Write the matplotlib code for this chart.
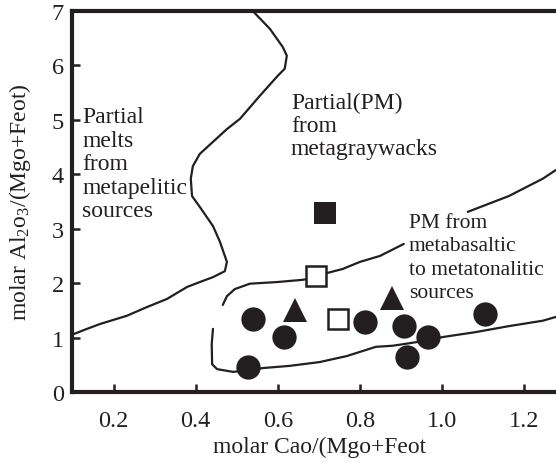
import numpy as np
import matplotlib
matplotlib.use("Agg")
import matplotlib.pyplot as plt

plt.rcParams["font.family"] = ["Liberation Serif", "DejaVu Serif"]
plt.rcParams["mathtext.fontset"] = "custom"
plt.rcParams["mathtext.rm"] = "Liberation Serif"
plt.rcParams["mathtext.it"] = "Liberation Serif"
plt.rcParams["mathtext.default"] = "rm"

INK = "#231f20"

# ---- sample data: molar CaO/(MgO+FeOt) vs molar Al2O3/(MgO+FeOt) ----
circle_x = [0.539, 0.616, 0.528, 0.812, 0.907, 0.916, 0.966, 1.104]
circle_y = [1.35, 1.01, 0.46, 1.29, 1.22, 0.64, 1.01, 1.43]

triangle_x = [0.642, 0.879]
triangle_y = [1.50, 1.73]

open_square_x = [0.693, 0.746]
open_square_y = [2.14, 1.34]

filled_square_x = [0.714]
filled_square_y = [3.28]

# ---- field boundaries ----
# metapelitic / metagraywacke boundary
pelite_x = [0.539, 0.581, 0.612, 0.622, 0.617, 0.600, 0.556, 0.508, 0.476,
            0.410, 0.393, 0.388, 0.391, 0.410, 0.442, 0.459, 0.476, 0.471,
            0.442, 0.410, 0.379, 0.330, 0.281, 0.232, 0.167, 0.135, 0.098]
pelite_y = [7.00, 6.67, 6.34, 6.18, 5.94, 5.81, 5.44, 5.02, 4.83,
            4.375, 4.15, 3.92, 3.60, 3.40, 3.05, 2.76, 2.39, 2.22,
            2.11, 2.02, 1.93, 1.71, 1.56, 1.40, 1.25, 1.16, 1.05]

# upper limit of the metabasaltic field (broken where the label sits)
basalt_top_x = [0.466, 0.476, 0.495, 0.532, 0.598, 0.659, 0.693, 0.722, 0.758,
                0.800, 0.849, 0.907, np.nan, 1.063, 1.163, 1.246, 1.278]
basalt_top_y = [1.60, 1.76, 1.89, 1.99, 2.02, 2.06, 2.10, 2.19, 2.26,
                2.39, 2.50, 2.72, np.nan, 3.31, 3.60, 3.92, 4.08]

# lower limit of the metabasaltic field
basalt_low_x = [0.442, 0.439, 0.440, 0.452, 0.491, 0.528, 0.564, 0.629, 0.702,
                0.768, 0.839, 0.880, 0.907, 0.966, 1.002, 1.082, 1.163, 1.246, 1.278]
basalt_low_y = [1.16, 0.88, 0.51, 0.42, 0.37, 0.40, 0.44, 0.48, 0.55,
                0.66, 0.83, 0.85, 0.88, 0.95, 1.01, 1.10, 1.21, 1.31, 1.38]

x_ticks = [0.2, 0.4, 0.6, 0.8, 1.0, 1.2]
x_tick_labels = ["0.2", "0.4", "0.6", "0.8", "1.0", "1.2"]
y_ticks = [0, 1, 2, 3, 4, 5, 6, 7]
y_tick_labels = ["0", "1", "2", "3", "4", "5", "6", "7"]

fig = plt.figure(figsize=(5.56, 4.64), dpi=100)
ax = fig.add_axes([72 / 556, 1 - 393 / 464, 1 - 72 / 556, (393 - 12) / 464])

for bx, by in [(pelite_x, pelite_y), (basalt_top_x, basalt_top_y),
               (basalt_low_x, basalt_low_y)]:
    ax.plot(bx, by, color=INK, lw=1.6, solid_capstyle="round",
            solid_joinstyle="round", zorder=2)

ax.plot(circle_x, circle_y, "o", ms=17.5, mfc=INK, mec=INK, mew=0, zorder=3)
ax.plot(triangle_x, triangle_y, "^", ms=17.5, mfc=INK, mec=INK, mew=0, zorder=3)
ax.plot(open_square_x, open_square_y, "s", ms=14, mfc="white", mec=INK,
        mew=1.8, zorder=3)
ax.plot(filled_square_x, filled_square_y, "s", ms=16.5, mfc=INK, mec=INK,
        mew=0, zorder=3)

txt = dict(fontsize=17, color=INK, ha="left", va="top")
ax.text(0.123, 5.25, "Partial\nmelts\nfrom\nmetapelitic\nsources",
        linespacing=1.16, **txt)
ax.text(0.632, 5.52, "Partial(PM)\nfrom\nmetagraywacks",
        linespacing=1.13, **txt)
ax.text(0.919, 3.29, "PM from\nmetabasaltic\nto metatonalitic\nsources",
        fontsize=15.5, color=INK, ha="left", va="top", linespacing=1.31)

ax.set_xlim(0.0985, 1.278)
ax.set_ylim(0, 7)
ax.set_xticks(x_ticks)
ax.set_xticklabels(x_tick_labels)
ax.set_yticks(y_ticks)
ax.set_yticklabels(y_tick_labels)
ax.tick_params(direction="in", length=6, width=1.8, labelsize=17.5,
               colors=INK)
ax.tick_params(axis="x", pad=13)
ax.tick_params(axis="y", pad=6)

for side in ["left", "bottom", "top"]:
    ax.spines[side].set_linewidth(3)
    ax.spines[side].set_color(INK)
ax.spines["right"].set_visible(False)

ax.set_xlabel("molar Cao/(Mgo+Feot", fontsize=17, color=INK)
ax.set_ylabel("molar Al$_2$o$_3$/(Mgo+Feot)", fontsize=17, color=INK)
ax.xaxis.set_label_coords(0.512, -0.115)
ax.yaxis.set_label_coords(-0.081, 0.5)

fig.savefig("out.png", dpi=100)
